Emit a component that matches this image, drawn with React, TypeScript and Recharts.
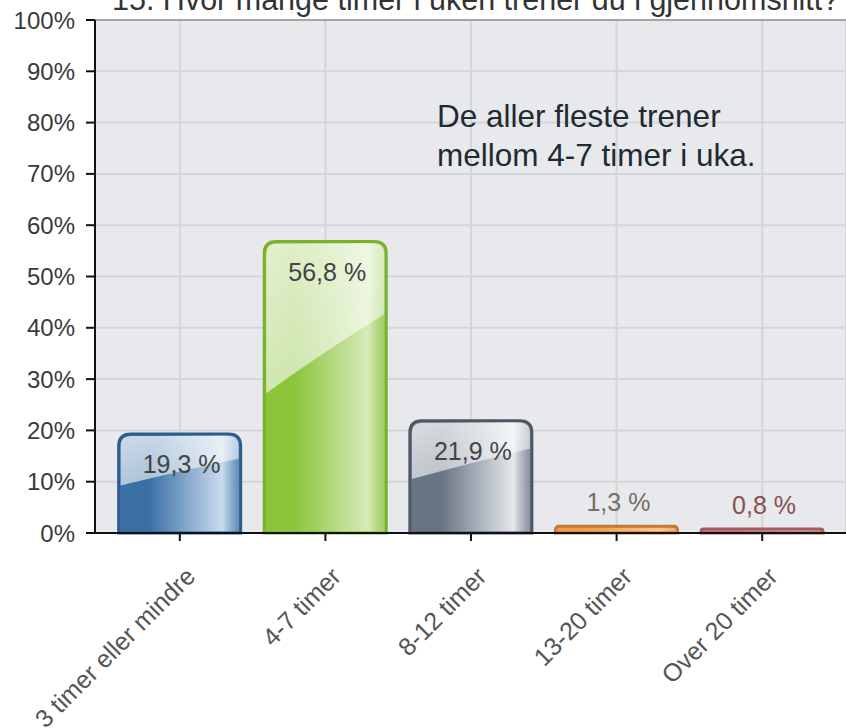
import { BarChart, Bar, XAxis, YAxis, CartesianGrid, ReferenceLine, LabelList } from 'recharts';

const categories = ['3 timer eller mindre', '4-7 timer', '8-12 timer', '13-20 timer', 'Over 20 timer'];
const shares = [19.3, 56.8, 21.9, 1.3, 0.8];
const shareLabels = ['19,3 %', '56,8 %', '21,9 %', '1,3 %', '0,8 %'];
const yTicks = [0, 10, 20, 30, 40, 50, 60, 70, 80, 90, 100];
const title = '15. Hvor mange timer i uken trener du i gjennomsnitt?';
const noteLines = ['De aller fleste trener', 'mellom 4-7 timer i uka.'];

const FONT = '"Liberation Sans", Arial, sans-serif';

// one look per bar: dark edge, light edge, border, label colour
const PALETTE = [
  { dark: '#3a70a6', light: '#cadcee', border: '#2c5d8d', label: '#444' },
  { dark: '#8cc43c', light: '#d6ebb9', border: '#78b22c', label: '#444' },
  { dark: '#687383', light: '#e4e8ec', border: '#4c5766', label: '#444' },
  { dark: '#ee9d4c', light: '#f8c890', border: '#c47a30', label: '#7a6e60' },
  { dark: '#c98484', light: '#e8b4b4', border: '#a65c5e', label: '#8b4f52' },
];

const data = categories.map((name, i) => ({ name, share: shares[i], label: shareLabels[i], idx: i }));

function GlossyBar(props: any) {
  const { x, y, width, height, payload } = props;
  if (!height || height <= 0) return null;
  const i = payload?.idx ?? props.index ?? 0;
  const p = PALETTE[i];
  const r = Math.min(12, height * 0.6);
  const body = `M${x},${y + height} L${x},${y + r} Q${x},${y} ${x + r},${y} L${x + width - r},${y} Q${x + width},${y} ${x + width},${y + r} L${x + width},${y + height} Z`;
  const gloss = `M${x + 2},${y + height * 0.52} Q${x + width * 0.55},${y + height * 0.36} ${x + width - 2},${y + height * 0.25} L${x + width - 2},${y + r} Q${x + width - 2},${y + 2} ${x + width - r},${y + 2} L${x + r},${y + 2} Q${x + 2},${y + 2} ${x + 2},${y + r} Z`;
  return (
    <g>
      <path d={body} fill={`url(#barGrad${i})`} stroke={p.border} strokeWidth={3} />
      {height > 30 && <path d={gloss} fill="url(#glossGrad)" />}
    </g>
  );
}

function BarValue(props: any) {
  const { x, y, width, index } = props;
  const p = PALETTE[index];
  const inside = shares[index] > 5;
  return (
    <text
      x={x + width / 2 + 2}
      y={inside ? y + 39 : y - 15}
      textAnchor="middle"
      fontSize={25}
      fontFamily={FONT}
      fill={p.label}
    >
      {shareLabels[index]}
    </text>
  );
}

function CategoryTick(props: any) {
  const { x, y, payload } = props;
  const ax = x + 17;
  const ay = y + 37;
  return (
    <text
      x={ax}
      y={ay}
      transform={`rotate(-45, ${ax}, ${ay})`}
      textAnchor="end"
      fontSize={25}
      fontFamily={FONT}
      fill="#555"
    >
      {payload.value}
    </text>
  );
}

export default function App() {
  return (
    <div style={{ position: 'absolute', left: 0, top: 0, width: 846, height: 728, background: '#fff' }}>
      <BarChart
        width={846}
        height={728}
        data={data}
        margin={{ top: 20, right: 0, left: 0, bottom: 0 }}
        barCategoryGap="8%"
      >
        <defs>
          {PALETTE.map((p, i) => (
            <linearGradient key={i} id={`barGrad${i}`} x1="0" y1="0" x2="1" y2="0">
              <stop offset="0%" stopColor={p.dark} />
              <stop offset="25%" stopColor={p.dark} />
              <stop offset="85%" stopColor={p.light} />
              <stop offset="100%" stopColor={p.dark} stopOpacity={0.8} />
            </linearGradient>
          ))}
          <linearGradient id="glossGrad" x1="0" y1="0" x2="1" y2="1">
            <stop offset="0%" stopColor="#fff" stopOpacity={0.75} />
            <stop offset="100%" stopColor="#fff" stopOpacity={0.45} />
          </linearGradient>
        </defs>
        <CartesianGrid fill="#e7e9ec" stroke="#d3d5d8" strokeWidth={2} />
        <XAxis
          dataKey="name"
          height={195}
          padding={{ left: 12, right: 11 }}
          axisLine={{ stroke: '#111', strokeWidth: 2 }}
          tickLine={{ stroke: '#111', strokeWidth: 2 }}
          tickSize={8}
          tickMargin={0}
          interval={0}
          tick={<CategoryTick />}
        />
        <YAxis
          width={95}
          domain={[0, 100]}
          ticks={yTicks}
          tickFormatter={(v: number) => `${v}%`}
          axisLine={{ stroke: '#111', strokeWidth: 2 }}
          tickLine={{ stroke: '#111', strokeWidth: 2 }}
          tickSize={9}
          tickMargin={11}
          tick={{ fontSize: 24, fill: '#3a3a3a', fontFamily: FONT }}
        />
        <ReferenceLine y={100} stroke="#a4a4a4" strokeWidth={2} />
        <Bar dataKey="share" shape={<GlossyBar />} isAnimationActive={false}>
          <LabelList dataKey="label" content={<BarValue />} />
        </Bar>
      </BarChart>
      <svg
        width={846}
        height={728}
        style={{ position: 'absolute', left: 0, top: 0, pointerEvents: 'none' }}
      >
        <text x={112} y={10} fontSize={30.5} fontFamily={FONT} fill="#333">
          {title}
        </text>
        {noteLines.map((line, i) => (
          <text key={i} x={437} y={127 + i * 39} fontSize={31.5} fontFamily={FONT} fill="#1f2a31">
            {line}
          </text>
        ))}
      </svg>
    </div>
  );
}
